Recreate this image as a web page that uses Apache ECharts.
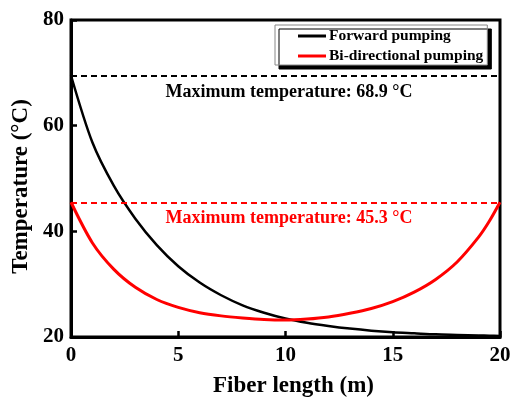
<!DOCTYPE html>
<html>
<head>
<meta charset="utf-8">
<script src="https://cdn.jsdelivr.net/npm/echarts@6/dist/echarts.min.js"></script>
<style>
  html, body { margin: 0; padding: 0; background: #fff; }
  #chart { width: 518px; height: 398px; }
</style>
</head>
<body>
<div id="chart"></div>
<script>
// fiber position (m)
const fiberLength = [0, 1, 2, 3, 4, 5, 6, 7, 8, 9, 10, 11, 12, 13, 14, 15, 16, 17, 18, 19, 19.5, 20];
// temperatures (°C)
const forwardTemp = [69.5, 56.8, 48.6, 42.4, 37.4, 33.4, 30.3, 27.9, 26.0, 24.6, 23.5, 22.7, 22.1, 21.6, 21.2, 20.9, 20.7, 20.5, 20.4, 20.3, 20.25, 20.2];
const bidirTemp = [45.5, 37.8, 32.8, 29.4, 27.1, 25.6, 24.6, 24.0, 23.6, 23.3, 23.2, 23.4, 23.8, 24.5, 25.4, 26.7, 28.5, 30.9, 34.2, 38.9, 41.9, 45.5];
const maxForward = 69.5;
const maxBidir = 45.5;
const maxLabels = ["Maximum temperature: 68.9 °C", "Maximum temperature: 45.3 °C"];
const seriesNames = ["Forward pumping", "Bi-directional pumping"];

const FONT = "'Liberation Serif', 'Times New Roman', serif";

const chart = echarts.init(document.getElementById("chart"));

const pairs = (ys) => fiberLength.map((x, i) => [x, ys[i]]);

const dashedLine = (value, color, text, dist) => ({
  silent: true,
  symbol: "none",
  lineStyle: { color: color, type: [6, 4], width: 2 },
  label: {
    show: true,
    position: "insideMiddleBottom",
    formatter: text,
    color: color,
    fontFamily: FONT,
    fontWeight: "bold",
    fontSize: 18,
    distance: dist,
    padding: [0, 0, 0, 7],
  },
  data: [{ yAxis: value }],
});

const option = {
  animation: false,
  grid: {
    left: 71,
    top: 20,
    right: 18,
    bottom: 61,
    outerBoundsMode: "none",
    containLabel: false,
    show: true,
    borderColor: "#000",
    borderWidth: 3,
  },
  legend: {
    orient: "vertical",
    left: 275,
    top: 25,
    itemWidth: 28,
    itemHeight: 3,
    itemGap: 4,
    icon: "rect",
    padding: [3, 4, 1, 23],
    backgroundColor: "#fff",
    borderColor: "#888",
    borderWidth: 1,
    shadowColor: "#000",
    shadowOffsetX: 4,
    shadowOffsetY: 4,
    shadowBlur: 0,
    textStyle: {
      fontFamily: FONT,
      fontWeight: "bold",
      fontSize: 15.5,
      color: "#000",
      padding: [0, 0, 0, -2],
    },
    data: seriesNames,
  },
  xAxis: {
    type: "value",
    min: 0,
    max: 20,
    interval: 5,
    name: "Fiber length (m)",
    nameLocation: "middle",
    nameGap: 38,
    nameTextStyle: { fontFamily: FONT, fontWeight: "bold", fontSize: 23, color: "#000", padding: [0, 0, 0, 16] },
    axisLine: { lineStyle: { color: "#000", width: 3 } },
    axisTick: { inside: true, length: 6, lineStyle: { color: "#000", width: 2.5 } },
    axisLabel: { fontFamily: FONT, fontWeight: "bold", fontSize: 21, color: "#000", margin: 8 },
    splitLine: { show: false },
  },
  yAxis: {
    type: "value",
    min: 20,
    max: 80,
    interval: 20,
    name: "Temperature (°C)",
    nameLocation: "middle",
    nameGap: 27,
    nameTextStyle: { fontFamily: FONT, fontWeight: "bold", fontSize: 23, color: "#000", padding: [10, 16, 0, 0] },
    axisLine: { show: true, lineStyle: { color: "#000", width: 3 } },
    axisTick: { show: true, inside: true, length: 6, lineStyle: { color: "#000", width: 2.5 } },
    axisLabel: { fontFamily: FONT, fontWeight: "bold", fontSize: 21, color: "#000", margin: 7 },
    splitLine: { show: false },
  },
  series: [
    {
      name: seriesNames[0],
      type: "line",
      data: pairs(forwardTemp),
      smooth: 0.3,
      showSymbol: false,
      lineStyle: { color: "#000", width: 2.5 },
      itemStyle: { color: "#000" },
      markLine: dashedLine(maxForward, "#000", maxLabels[0], 8),
    },
    {
      name: seriesNames[1],
      type: "line",
      data: pairs(bidirTemp),
      smooth: 0.3,
      showSymbol: false,
      lineStyle: { color: "#ff0000", width: 3 },
      itemStyle: { color: "#ff0000" },
      markLine: dashedLine(maxBidir, "#ff0000", maxLabels[1], 7),
    },
  ],
};

chart.setOption(option);
</script>
</body>
</html>
